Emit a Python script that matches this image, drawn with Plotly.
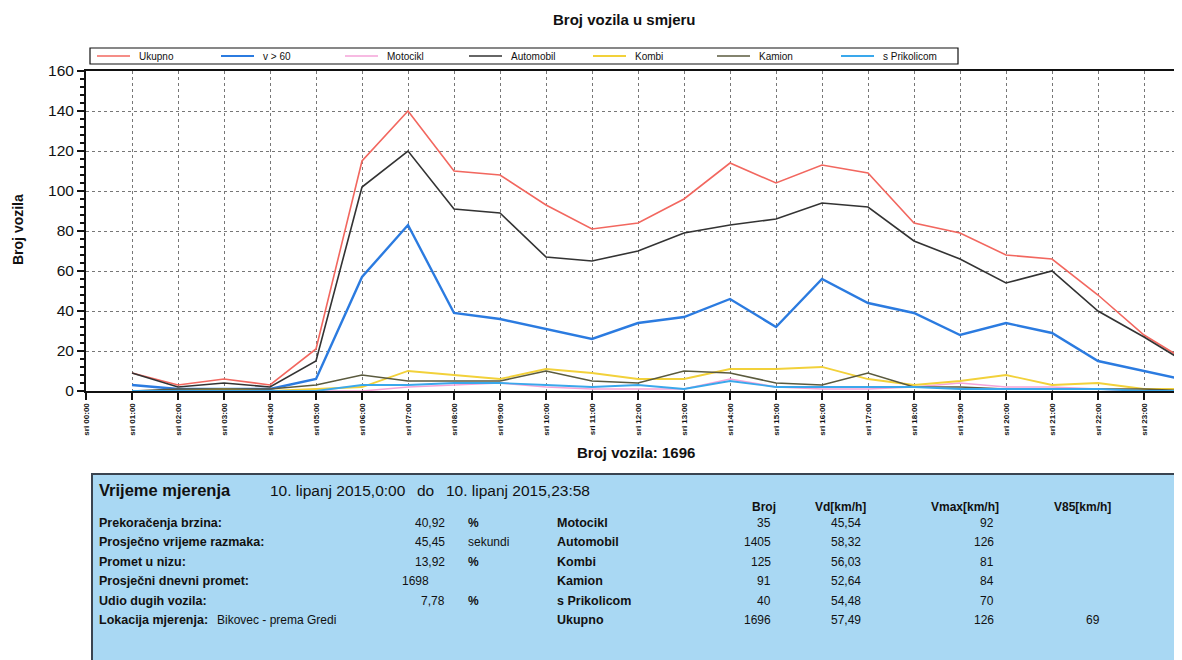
import plotly.graph_objects as go

# ---------------- data ----------------
hours = list(range(1, 25))  # hour-end timestamps 01:00 .. 24:00
tick_hours = list(range(0, 24))
tick_labels = ["<b>sri %02d:00</b>" % h for h in tick_hours]

ukupno = [9, 3, 6, 3, 21, 115, 140, 110, 108, 93, 81, 84, 96, 114, 104, 113, 109, 84, 79, 68, 66, 48, 28, 14]
v_60 = [3, 1, 1, 1, 6, 57, 83, 39, 36, 31, 26, 34, 37, 46, 32, 56, 44, 39, 28, 34, 29, 15, 10, 5]
motocikl = [0, 0, 0, 0, 0, 0, 2, 3, 4, 2, 1, 1, 1, 6, 2, 1, 1, 2, 4, 2, 2, 1, 0, 0]
automobil = [9, 2, 4, 2, 15, 102, 120, 91, 89, 67, 65, 70, 79, 83, 86, 94, 92, 75, 66, 54, 60, 40, 27, 13]
kombi = [0, 0, 1, 0, 1, 2, 10, 8, 6, 11, 9, 6, 6, 11, 11, 12, 6, 3, 5, 8, 3, 4, 1, 1]
kamion = [0, 1, 1, 1, 3, 8, 5, 5, 5, 10, 5, 4, 10, 9, 4, 3, 9, 2, 2, 1, 1, 1, 1, 0]
prikolicom = [0, 0, 0, 0, 0, 3, 3, 4, 4, 3, 2, 3, 1, 5, 2, 2, 2, 2, 1, 1, 1, 1, 0, 0]

series_names = ["Ukupno", "v > 60", "Motocikl", "Automobil", "Kombi", "Kamion", "s Prikolicom"]
series_values = [ukupno, v_60, motocikl, automobil, kombi, kamion, prikolicom]
series_colors = ["#f2675f", "#2b7be0", "#f5a3d8", "#333333", "#f2d13a", "#5a5a3e", "#3aa8ec"]
series_widths = [1.6, 2.4, 1.6, 1.6, 1.8, 1.6, 1.8]

title_text = "Broj vozila u smjeru"
x_title = "Broj vozila: 1696"
y_title = "Broj vozila"

period_label = "Vrijeme mjerenja"
period_from = "10. lipanj 2015,0:00"
period_do = "do"
period_to = "10. lipanj 2015,23:58"
stat_labels = ["Prekoračenja brzina:", "Prosječno vrijeme razmaka:", "Promet u nizu:",
               "Prosječni dnevni promet:", "Udio dugih vozila:"]
stat_values = ["40,92", "45,45", "13,92", "1698", "7,78"]
stat_units = ["%", "sekundi", "%", "", "%"]
location_label = "Lokacija mjerenja:"
location_text = "Bikovec - prema Gredi"
col_headers = ["Broj", "Vd[km/h]", "Vmax[km/h]", "V85[km/h]"]
categories = ["Motocikl", "Automobil", "Kombi", "Kamion", "s Prikolicom", "Ukupno"]
broj = ["35", "1405", "125", "91", "40", "1696"]
vd = ["45,54", "58,32", "56,03", "52,64", "54,48", "57,49"]
vmax = ["92", "126", "81", "84", "70", "126"]
v85 = ["", "", "", "", "", "69"]

# ---------------- layout geometry (screen pixels) ----------------
W, H = 1182, 660
OFF = 8            # page body margin offset of the figure div
L, T = 86, 71      # screen position of plot area left / top
PLOT_BOTTOM = 391  # screen position of plot area bottom
PW = W - L
PH = PLOT_BOTTOM - T
FONT = "Arial, Liberation Sans, sans-serif"


def px(x):
    return (x - L) / PW


def py(y):
    return (PLOT_BOTTOM - y) / PH


fig = go.Figure()
for name, vals, col, w in zip(series_names, series_values, series_colors, series_widths):
    fig.add_trace(go.Scatter(x=hours, y=vals, mode="lines", name=name,
                             line=dict(color=col, width=w), showlegend=False))

annotations = []
shapes = []


def txt(x, y, s, size=11, bold=False, anchor="left", color="#111"):
    if bold and s:
        s = "<b>" + s + "</b>"
    annotations.append(dict(x=px(x), y=py(y), xref="paper", yref="paper", text=s,
                            showarrow=False, xanchor=anchor, yanchor="middle",
                            font=dict(family=FONT, size=size, color=color)))


# titles
txt(624, 20, title_text, size=15, bold=True, anchor="center")
txt(636, 452, x_title, size=15, bold=True, anchor="center")
annotations.append(dict(x=px(18), y=py(230), xref="paper", yref="paper",
                        text="<b>" + y_title + "</b>", showarrow=False, textangle=-90,
                        xanchor="center", yanchor="middle",
                        font=dict(family=FONT, size=14, color="#111")))

# legend box (drawn as a strip above the plot)
shapes.append(dict(type="rect", xref="paper", yref="paper", x0=px(90), x1=px(958),
                   y0=py(64), y1=py(48), fillcolor="white", line=dict(color="#111", width=1.2)))
LEG_X0, LEG_STEP, LEG_Y = 97, 124, 56
for i, (name, col, w) in enumerate(zip(series_names, series_colors, series_widths)):
    x0 = LEG_X0 + i * LEG_STEP
    shapes.append(dict(type="line", xref="paper", yref="paper", x0=px(x0), x1=px(x0 + 33),
                       y0=py(LEG_Y), y1=py(LEG_Y), line=dict(color=col, width=min(w, 2))))
    txt(x0 + 40, LEG_Y, name, size=10)

# table
shapes.append(dict(type="rect", xref="paper", yref="paper", x0=px(92), x1=px(1200), y0=py(680), y1=py(474),
                   fillcolor="#a9d8f3", line=dict(color="#3a4450", width=2), layer="below"))
txt(97, 490, period_label, size=16.5, bold=True)
txt(268, 490, period_from, size=15.5)
txt(415, 490, period_do, size=15.5)
txt(444, 490, period_to, size=15.5)
header_right = [778, 868, 1001, 1113]
for hx, h in zip(header_right, col_headers):
    txt(hx, 507, h, size=12, bold=True, anchor="right")

row_y = [523, 542, 562, 581, 601, 620]
val_right = [447, 447, 447, 431, 447]
for i in range(5):
    txt(97, row_y[i], stat_labels[i], size=12.5, bold=True)
    txt(val_right[i], row_y[i], stat_values[i], size=12, anchor="right")
    if stat_units[i]:
        txt(466, row_y[i], stat_units[i], size=12, bold=(stat_units[i] == "%"))
txt(97, row_y[5], location_label, size=12.5, bold=True)
txt(215, row_y[5], location_text, size=12)

data_right = [773, 863, 996, 1102]
for i, c in enumerate(categories):
    txt(555, row_y[i], c, size=12.5, bold=True)
    for xr, col in zip(data_right, [broj, vd, vmax, v85]):
        if col[i]:
            txt(xr, row_y[i], col[i], size=12, anchor="right")

fig.update_layout(
    width=W - OFF, height=H - OFF,
    margin=dict(l=L - OFF, r=0, t=T - OFF, b=H - PLOT_BOTTOM, pad=0),
    paper_bgcolor="white", plot_bgcolor="white",
    font=dict(family=FONT, color="#111"),
    showlegend=False,
    annotations=annotations,
    shapes=shapes,
    xaxis=dict(range=[0, (W - L) / 46.0], tickmode="array", tickvals=tick_hours, ticktext=tick_labels,
               tickangle=-90, tickfont=dict(family=FONT, size=8, color="#111"),
               showline=True, linecolor="#111", linewidth=2, mirror=True,
               ticks="outside", ticklen=7, tickwidth=2, tickcolor="#111",
               showgrid=True, gridcolor="#777", griddash="dot", gridwidth=1,
               zeroline=False, fixedrange=True),
    yaxis=dict(range=[0, 160], tickvals=[0, 20, 40, 60, 80, 100, 120, 140, 160],
               tickfont=dict(family=FONT, size=15.5, color="#111"),
               showline=True, linecolor="#111", linewidth=2,
               ticks="outside", ticklen=7, tickwidth=2, tickcolor="#111",
               minor=dict(dtick=4, ticks="outside", ticklen=4, tickcolor="#111", tickwidth=1.5, showgrid=False),
               showgrid=True, gridcolor="#777", griddash="dot", gridwidth=1,
               zeroline=False, fixedrange=True),
)

fig.write_html("out.html")
